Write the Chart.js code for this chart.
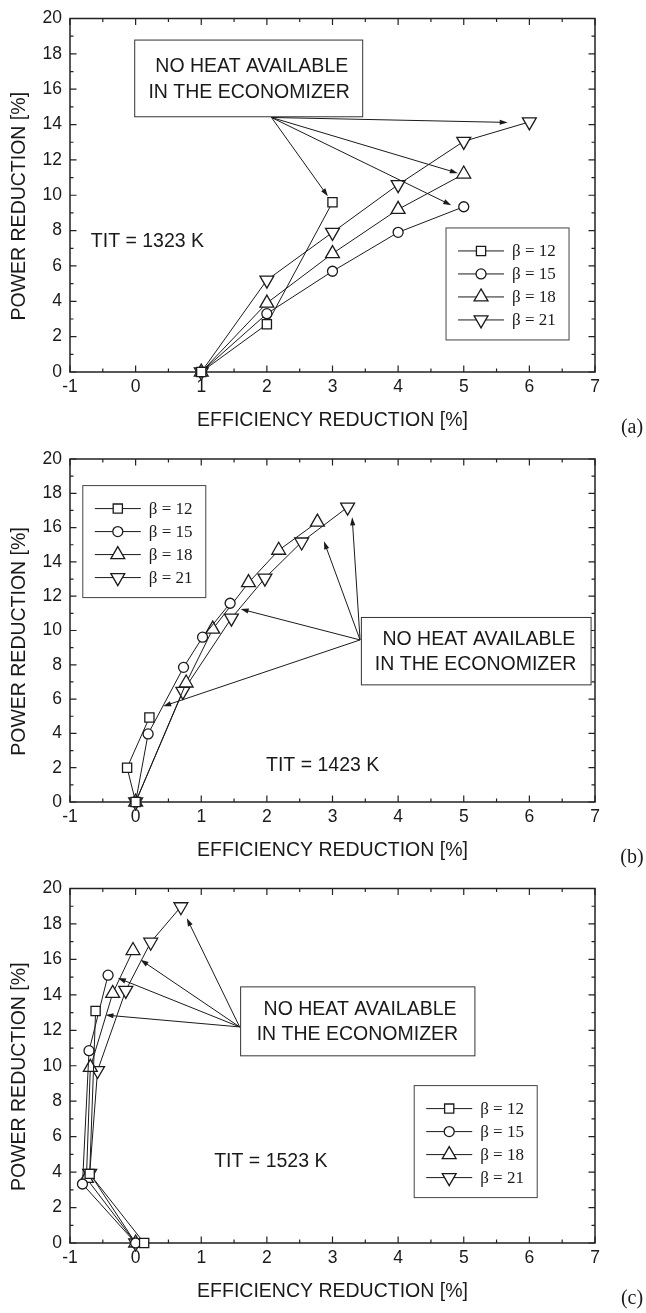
<!DOCTYPE html>
<html>
<head>
<meta charset="utf-8">
<script src="https://cdn.jsdelivr.net/npm/chart.js@4.4.0/dist/chart.umd.min.js"></script>
<style>
  html, body { margin: 0; padding: 0; background: #fff; }
  .panel { position: absolute; left: 0; width: 646px; }
</style>
</head>
<body>
<div class="panel" style="top:0px"><canvas id="chartA" width="646" height="440"></canvas></div>
<div class="panel" style="top:440px"><canvas id="chartB" width="646" height="430"></canvas></div>
<div class="panel" style="top:870px"><canvas id="chartC" width="646" height="443"></canvas></div>
<script>
// series names and axis ticks
var betaLabels = ["β = 12", "β = 15", "β = 18", "β = 21"];
var xTickValues = [-1, 0, 1, 2, 3, 4, 5, 6, 7];
var yTickValues = [0, 2, 4, 6, 8, 10, 12, 14, 16, 18, 20];

// (a) TIT = 1323 K : efficiency reduction / power reduction
var effA12 = [1, 2, 3];
var powA12 = [0, 2.7, 9.6];
var effA15 = [1, 2, 3, 4, 5];
var powA15 = [0, 3.3, 5.7, 7.9, 9.35];
var effA18 = [1, 2, 3, 4, 5];
var powA18 = [0, 3.9, 6.7, 9.2, 11.2];
var effA21 = [1, 2, 3, 4, 5, 6];
var powA21 = [0, 5.2, 7.9, 10.6, 13.05, 14.15];

// (b) TIT = 1423 K
var effB12 = [0, -0.13, 0.21];
var powB12 = [0, 2.0, 4.93];
var effB15 = [0, 0.19, 0.73, 1.02, 1.44];
var powB15 = [0, 3.97, 7.85, 9.61, 11.59];
var effB18 = [0, 0.77, 1.175, 1.72, 2.18, 2.77];
var powB18 = [0, 6.94, 10.08, 12.79, 14.68, 16.32];
var effB21 = [0, 0.72, 1.46, 1.97, 2.53, 3.23];
var powB21 = [0, 6.45, 10.72, 13.05, 15.16, 17.19];

// (c) TIT = 1523 K
var effC12 = [0.13, -0.70, -0.61];
var powC12 = [0, 3.9, 13.09];
var effC15 = [0, -0.81, -0.71, -0.42];
var powC15 = [0, 3.33, 10.85, 15.11];
var effC18 = [0, -0.75, -0.69, -0.35, -0.04];
var powC18 = [0, 3.65, 9.91, 14.08, 16.5];
var effC21 = [0, -0.70, -0.58, -0.15, 0.23, 0.69];
var powC21 = [0, 3.93, 9.73, 14.25, 16.97, 18.97];

var markerStyles = ["rect", "circle", "triangle", "triangle"];
var markerRotations = [0, 0, 0, 180];
var markerRadii = [6.5, 5, 8, 8];

var ink = "#1a1a1a";
var sansFont = '"Liberation Sans", Arial, sans-serif';
var serifFont = '"Liberation Serif", "Times New Roman", serif';

Chart.defaults.font.family = sansFont;
Chart.defaults.color = ink;

function pairs(xs, ys) {
  return xs.map(function (x, i) { return { x: x, y: ys[i] }; });
}

function arrow(ctx, x0, y0, x1, y1) {
  var ang = Math.atan2(y1 - y0, x1 - x0), hl = 8, hw = 2.6;
  ctx.beginPath();
  ctx.moveTo(x0, y0);
  ctx.lineTo(x1 - Math.cos(ang) * hl * 0.7, y1 - Math.sin(ang) * hl * 0.7);
  ctx.stroke();
  ctx.beginPath();
  ctx.moveTo(x1, y1);
  ctx.lineTo(x1 - hl * Math.cos(ang) + hw * Math.sin(ang), y1 - hl * Math.sin(ang) - hw * Math.cos(ang));
  ctx.lineTo(x1 - hl * Math.cos(ang) - hw * Math.sin(ang), y1 - hl * Math.sin(ang) + hw * Math.cos(ang));
  ctx.closePath();
  ctx.fill();
}

function makePanel(id, effs, pows, plotTop, plotBottom, notes) {
  var canvas = document.getElementById(id);
  var H = canvas.height;

  var datasets = effs.map(function (e, i) {
    return {
      label: betaLabels[i],
      data: pairs(e, pows[i]),
      showLine: true,
      tension: 0,
      clip: false,
      borderColor: ink,
      borderWidth: 1,
      pointStyle: markerStyles[i],
      pointRotation: markerRotations[i],
      pointRadius: markerRadii[i],
      pointBorderWidth: 1.3,
      pointBackgroundColor: "#fff",
      pointBorderColor: ink
    };
  });

  var paper = {
    id: "paper",
    beforeDatasetsDraw: function (chart) {
      var ctx = chart.ctx, a = chart.chartArea, xs = chart.scales.x, ys = chart.scales.y;
      ctx.save();
      ctx.strokeStyle = "#222";
      ctx.lineWidth = 1.5;
      ctx.strokeRect(a.left, a.top, a.right - a.left, a.bottom - a.top);
      ctx.lineWidth = 1.2;
      ctx.beginPath();
      // inward ticks on all four sides
      for (var v = xs.min; v <= xs.max + 1e-9; v += 0.5) {
        var px = xs.getPixelForValue(v);
        var len = Math.abs(v - Math.round(v)) < 1e-6 ? 6.5 : 3.5;
        ctx.moveTo(px, a.bottom); ctx.lineTo(px, a.bottom - len);
        ctx.moveTo(px, a.top); ctx.lineTo(px, a.top + len);
      }
      for (var w = ys.min; w <= ys.max; w += 1) {
        var py = ys.getPixelForValue(w);
        var l2 = w % 2 === 0 ? 6.5 : 3.5;
        ctx.moveTo(a.left, py); ctx.lineTo(a.left + l2, py);
        ctx.moveTo(a.right, py); ctx.lineTo(a.right - l2, py);
      }
      ctx.stroke();
      ctx.restore();
    },
    afterDatasetsDraw: function (chart) {
      var ctx = chart.ctx, a = chart.chartArea, xs = chart.scales.x, ys = chart.scales.y;
      function X(v) { return xs.getPixelForValue(v); }
      function Y(v) { return ys.getPixelForValue(v); }
      ctx.save();
      ctx.strokeStyle = ink;
      ctx.fillStyle = ink;

      // "no heat" box + arrows
      var b = notes.box;
      ctx.fillStyle = "#fff";
      ctx.fillRect(X(b[0]), Y(b[2]), X(b[1]) - X(b[0]), Y(b[3]) - Y(b[2]));
      ctx.lineWidth = 1;
      ctx.strokeStyle = "#333";
      ctx.strokeRect(X(b[0]), Y(b[2]), X(b[1]) - X(b[0]), Y(b[3]) - Y(b[2]));
      ctx.fillStyle = ink;
      ctx.font = "19.5px " + sansFont;
      ctx.textAlign = "center";
      ctx.textBaseline = "middle";
      notes.lines.forEach(function (l) { ctx.fillText(l[0], X(l[1]), Y(l[2])); });
      ctx.strokeStyle = ink;
      ctx.lineWidth = 1;
      notes.targets.forEach(function (t) {
        arrow(ctx, X(notes.origin[0]), Y(notes.origin[1]), X(t[0]), Y(t[1]));
      });

      // TIT label
      ctx.fillText(notes.tit[0], X(notes.tit[1]), Y(notes.tit[2]));

      // legend
      var lx = X(notes.legend[0]), ly = Y(notes.legend[1]);
      ctx.lineWidth = 1;
      ctx.strokeStyle = "#444";
      ctx.strokeRect(lx, ly, 123, 112);
      ctx.textAlign = "left";
      ctx.font = "17px " + serifFont;
      betaLabels.forEach(function (lab, i) {
        var ry = ly + 23 + 23 * i;
        ctx.strokeStyle = ink;
        ctx.lineWidth = 1;
        ctx.beginPath();
        ctx.moveTo(lx + 12, ry); ctx.lineTo(lx + 58, ry);
        ctx.stroke();
        ctx.fillStyle = "#fff";
        ctx.lineWidth = 1.3;
        Chart.helpers.drawPoint(ctx, {
          pointStyle: markerStyles[i], rotation: markerRotations[i],
          radius: markerRadii[i], borderWidth: 1.3
        }, lx + 35, ry);
        ctx.fillStyle = ink;
        ctx.fillText(lab, lx + 66, ry + 1);
      });

      // axis titles and panel tag
      ctx.font = "19.5px " + sansFont;
      ctx.textAlign = "center";
      ctx.fillText("EFFICIENCY REDUCTION [%]", (a.left + a.right) / 2, a.bottom + 49);
      ctx.save();
      ctx.translate(20, (a.top + a.bottom) / 2 + 11);
      ctx.rotate(-Math.PI / 2);
      ctx.fillText("POWER REDUCTION [%]", 0, 0);
      ctx.restore();
      ctx.font = "20px " + serifFont;
      ctx.fillText(notes.tag, 632, a.bottom + 56);
      ctx.restore();
    }
  };

  return new Chart(canvas, {
    type: "scatter",
    data: { datasets: datasets },
    options: {
      responsive: false,
      animation: false,
      events: [],
      layout: { padding: { top: plotTop, right: 51, left: 0, bottom: 0 } },
      plugins: { legend: { display: false }, tooltip: { enabled: false } },
      scales: {
        x: {
          type: "linear", min: -1, max: 7,
          afterBuildTicks: function (s) { s.ticks = xTickValues.map(function (v) { return { value: v }; }); },
          ticks: { font: { size: 17.5 }, color: ink, padding: 5, maxRotation: 0, autoSkip: false },
          grid: { display: false, drawTicks: false },
          border: { display: false },
          afterFit: function (s) { s.height = H - plotBottom; }
        },
        y: {
          type: "linear", min: 0, max: 20,
          afterBuildTicks: function (s) { s.ticks = yTickValues.map(function (v) { return { value: v }; }); },
          ticks: { font: { size: 17.5 }, color: ink, padding: 8, autoSkip: false },
          grid: { display: false, drawTicks: false },
          border: { display: false },
          afterFit: function (s) { s.width = 70; }
        }
      }
    },
    plugins: [paper]
  });
}

makePanel("chartA",
  [effA12, effA15, effA18, effA21], [powA12, powA15, powA18, powA21], 16, 372, {
    box: [-0.014, 3.46, 18.78, 14.44],
    lines: [["NO HEAT AVAILABLE", 1.77, 17.28], ["IN THE ECONOMIZER", 1.73, 15.8]],
    origin: [2.07, 14.4],
    targets: [[2.93, 9.94], [4.81, 9.44], [4.91, 11.25], [5.67, 14.12]],
    tit: ["TIT = 1323 K", 0.18, 7.35],
    legend: [4.73, 8.15],
    tag: "(a)"
  });

makePanel("chartB",
  [effB12, effB15, effB18, effB21], [powB12, powB15, powB18, powB21], 19, 362, {
    box: [3.44, 6.94, 10.76, 6.83],
    lines: [["NO HEAT AVAILABLE", 5.23, 9.45], ["IN THE ECONOMIZER", 5.18, 8.0]],
    origin: [3.42, 9.45],
    targets: [[0.42, 5.58], [1.6, 11.25], [2.87, 15.2], [3.3, 16.6]],
    tit: ["TIT = 1423 K", 2.85, 2.13],
    legend: [-0.805, 18.45],
    tag: "(b)"
  });

makePanel("chartC",
  [effC12, effC15, effC18, effC21], [powC12, powC15, powC18, powC21], 17, 373, {
    box: [1.60, 5.17, 14.45, 10.56],
    lines: [["NO HEAT AVAILABLE", 3.42, 13.18], ["IN THE ECONOMIZER", 3.38, 11.78]],
    origin: [1.585, 12.19],
    targets: [[-0.46, 12.86], [-0.27, 14.95], [0.075, 15.98], [0.78, 18.32]],
    tit: ["TIT = 1523 K", 2.06, 4.58],
    legend: [4.245, 8.88],
    tag: "(c)"
  });
</script>
</body>
</html>
